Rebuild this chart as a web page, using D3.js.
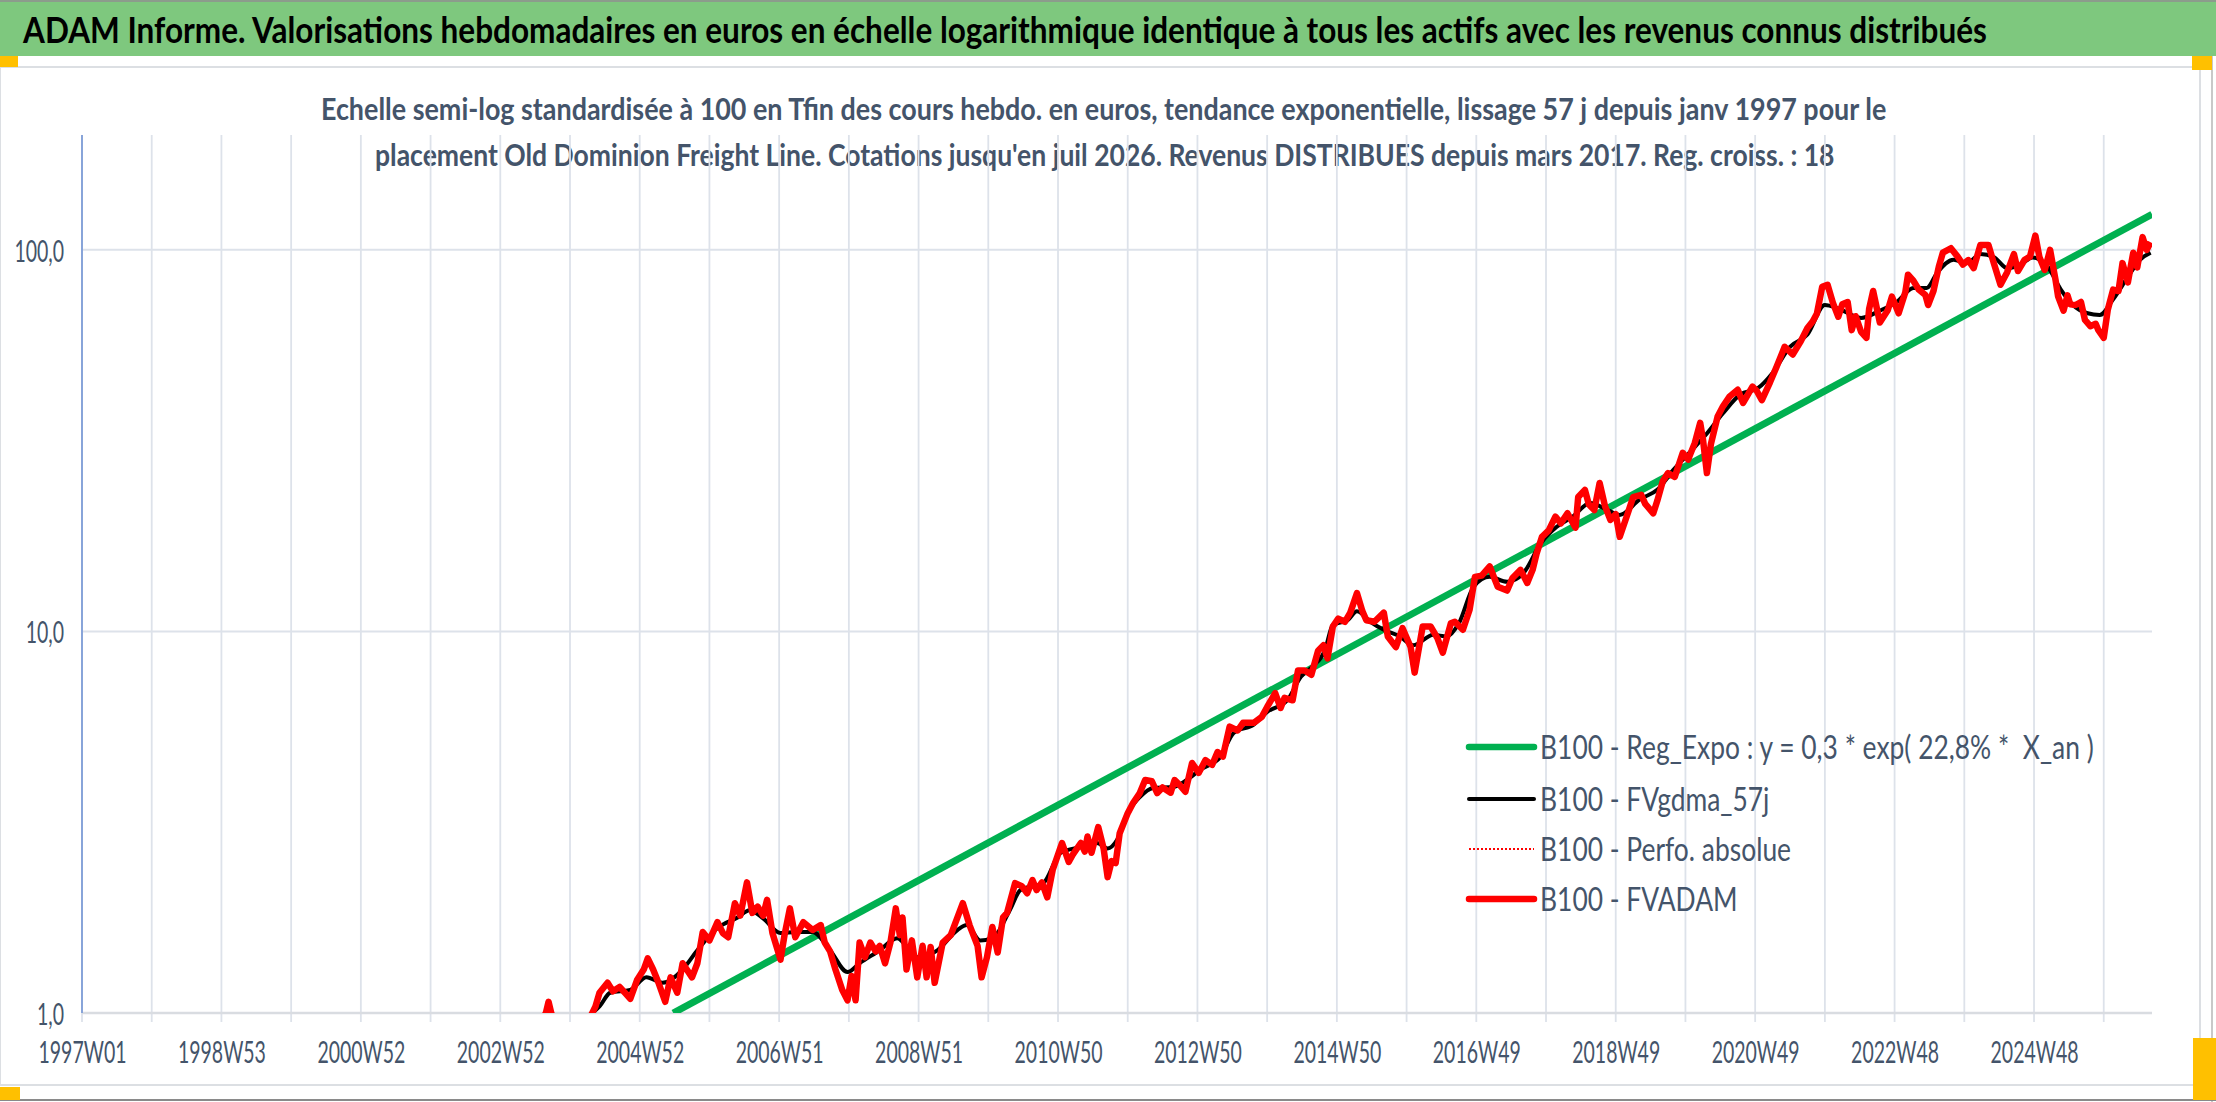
<!DOCTYPE html>
<html>
<head>
<meta charset="utf-8">
<script src="https://cdn.jsdelivr.net/npm/d3@7"></script>
<style>
  html, body { margin: 0; padding: 0; background: #fff; }
  svg { display: block; font-family: Lato, "Open Sans", sans-serif; }
  svg text { white-space: pre; }
</style>
</head>
<body>
<div id="chart"></div>
<script>
// category labels of the x axis (one every 104 weeks)
const xLabels = ['1997W01', '1998W53', '2000W52', '2002W52', '2004W52', '2006W51', '2008W51',
  '2010W50', '2012W50', '2014W50', '2016W49', '2018W49', '2020W49', '2022W48', '2024W48'];
const yTicks = [1, 10, 100];

// B100 - Reg_Expo (straight line on the log scale), week index from 1997W01
const regWeeks = [441, 1544];
const regValues = [1.0, 124];

// B100 - FVADAM (weekly)
const fvadamWeeks = [340, 346, 348, 350, 354, 365, 376, 380, 383, 386, 392, 396, 401, 406, 409, 414, 419, 422, 426, 430,
  435, 439, 444, 448, 455, 459, 463, 468, 474, 478, 482, 487, 491, 496, 500, 504, 508, 511, 515, 521,
  524, 528, 532, 538, 545, 551, 554, 558, 562, 567, 571, 574, 577, 580, 584, 588, 592, 595, 599, 603,
  607, 610, 612, 615, 619, 623, 627, 630, 633, 636, 642, 648, 653, 657, 662, 668, 671, 675, 679, 683,
  687, 690, 696, 701, 705, 709, 712, 716, 720, 724, 731, 736, 739, 745, 748, 750, 753, 758, 762, 765,
  768, 771, 774, 780, 784, 789, 793, 798, 802, 806, 812, 815, 819, 823, 828, 833, 838, 843, 847, 851,
  856, 862, 866, 874, 880, 884, 890, 894, 897, 903, 907, 912, 917, 922, 926, 929, 933, 937, 942, 946,
  951, 955, 958, 964, 971, 974, 980, 985, 991, 994, 1000, 1006, 1011, 1015, 1021, 1024, 1030, 1035, 1039, 1044,
  1050, 1056, 1063, 1067, 1073, 1078, 1082, 1085, 1089, 1094, 1099, 1103, 1108, 1114, 1116, 1121, 1124, 1128, 1132, 1136,
  1140, 1144, 1147, 1153, 1157, 1163, 1166, 1172, 1175, 1179, 1183, 1188, 1194, 1198, 1203, 1207, 1209, 1212, 1215, 1220,
  1224, 1229, 1235, 1239, 1246, 1249, 1253, 1259, 1264, 1270, 1276, 1282, 1287, 1291, 1294, 1298, 1302, 1306, 1310, 1313,
  1317, 1320, 1323, 1327, 1331, 1333, 1336, 1341, 1347, 1350, 1355, 1360, 1362, 1366, 1370, 1375, 1377, 1381, 1385, 1388,
  1394, 1399, 1403, 1407, 1411, 1416, 1422, 1426, 1431, 1436, 1441, 1444, 1449, 1453, 1457, 1460, 1464, 1468, 1472, 1474,
  1478, 1481, 1483, 1487, 1491, 1494, 1498, 1502, 1504, 1508, 1511, 1515, 1519, 1522, 1526, 1530, 1533, 1537, 1540, 1543];
const fvadamValues = [0.92, 1.0, 1.07, 1.0, 0.93, 0.88, 0.93, 0.99, 1.04, 1.13, 1.2, 1.14, 1.17, 1.12, 1.09, 1.22, 1.3, 1.39, 1.3, 1.2,
  1.07, 1.24, 1.13, 1.35, 1.24, 1.35, 1.63, 1.55, 1.73, 1.62, 1.58, 1.94, 1.8, 2.2, 1.83, 1.9, 1.8, 1.98, 1.62, 1.38,
  1.6, 1.88, 1.58, 1.73, 1.65, 1.7, 1.53, 1.45, 1.3, 1.15, 1.08, 1.25, 1.08, 1.53, 1.4, 1.53, 1.45, 1.5, 1.35, 1.53,
  1.88, 1.6, 1.78, 1.3, 1.55, 1.24, 1.5, 1.24, 1.49, 1.2, 1.53, 1.6, 1.78, 1.94, 1.7, 1.5, 1.24, 1.4, 1.68, 1.44,
  1.78, 1.83, 2.19, 2.15, 2.06, 2.23, 2.1, 2.2, 2.01, 2.37, 2.79, 2.49, 2.6, 2.79, 2.65, 2.9, 2.63, 3.07, 2.7, 2.27,
  2.5, 2.47, 2.96, 3.34, 3.55, 3.77, 4.08, 4.05, 3.77, 3.9, 3.78, 4.08, 3.95, 3.8, 4.52, 4.26, 4.6, 4.47, 4.83, 4.7,
  5.63, 5.5, 5.76, 5.76, 5.97, 6.34, 6.89, 6.3, 6.7, 6.6, 7.9, 7.9, 7.7, 8.9, 9.2, 8.5, 10.3, 10.8, 10.6, 11.2,
  12.6, 11.3, 10.7, 10.6, 11.2, 9.7, 9.1, 10.2, 9.1, 7.8, 10.3, 10.3, 9.6, 8.8, 10.5, 10.6, 10.1, 11.4, 13.9, 14.0,
  14.8, 13.1, 12.8, 13.8, 14.5, 13.4, 14.5, 16, 17.7, 18.4, 20, 19.2, 20.4, 18.7, 22.5, 23.5, 21.5, 20.8, 24.5, 21.3,
  19.6, 20.3, 17.7, 20.4, 22.5, 22.8, 21.6, 20.4, 22, 24.7, 26.0, 25.4, 29.4, 28.2, 31.2, 35.2, 32, 26.0, 31, 36.6,
  38.9, 41.3, 43, 39.7, 43.8, 42.8, 40.4, 44.9, 49.4, 55.7, 53.2, 57.6, 62.4, 65, 68, 80, 81, 72.6, 66.8, 72,
  73, 61.6, 67, 61, 58.8, 70, 78, 64.5, 69.6, 75.4, 68.2, 77.4, 86.1, 83, 78.7, 76.1, 71.7, 78, 90.4, 98.3,
  101, 96, 91.5, 94, 89.6, 103, 103, 92.3, 81, 87.4, 97.5, 88, 94.2, 96, 109, 95.8, 88.6, 100, 83.6, 75.4,
  69.3, 76, 72, 71.7, 73, 65.5, 63.1, 64, 61.6, 58.8, 69.6, 78.7, 78, 92.3, 82.2, 98.3, 90, 108, 100, 104.7];

// B100 - FVgdma_57j (smoothed)
const smoothWeeks = [370, 386, 394, 409, 421, 433, 448, 459, 474, 489, 498, 508, 521, 533, 545, 558, 571, 580, 595, 608,
  623, 638, 653, 660, 670, 680, 692, 700, 717, 730, 745, 757, 765, 772, 780, 789, 799, 814, 824, 834,
  849, 859, 874, 884, 899, 909, 918, 927, 933, 944, 951, 961, 971, 983, 993, 1008, 1018, 1027, 1038, 1050,
  1063, 1075, 1088, 1100, 1112, 1125, 1138, 1147, 1162, 1175, 1187, 1199, 1212, 1224, 1237, 1250, 1261, 1274, 1287, 1300,
  1310, 1327, 1341, 1354, 1366, 1376, 1384, 1396, 1406, 1416, 1426, 1436, 1446, 1455, 1466, 1476, 1485, 1496, 1505, 1515,
  1526, 1535, 1543];
const smoothValues = [0.95, 1.04, 1.13, 1.15, 1.24, 1.2, 1.3, 1.46, 1.67, 1.78, 1.86, 1.77, 1.62, 1.63, 1.63, 1.46, 1.28, 1.35, 1.46, 1.57,
  1.4, 1.46, 1.65, 1.7, 1.55, 1.58, 1.86, 2.1, 2.19, 2.63, 2.72, 2.79, 2.7, 2.84, 3.34, 3.68, 3.89, 3.91, 4.08, 4.34,
  4.68, 5.42, 5.7, 6.15, 6.6, 7.6, 8.1, 8.9, 10.4, 10.7, 11.3, 10.6, 10.1, 9.7, 9.2, 9.8, 9.7, 10.5, 13.1, 13.9,
  13.5, 14.2, 17.0, 18.8, 20, 21.7, 20.8, 20.2, 22.2, 23.5, 26.5, 29.4, 33.0, 37.3, 41.8, 43.4, 47.6, 55.7, 60, 71.7,
  70.2, 66.3, 69.3, 73.2, 79.5, 79.5, 87.4, 94.2, 92.3, 97.5, 95.8, 89.6, 91.5, 95.5, 90.4, 78.7, 71.7, 68.2, 67.5, 74.2,
  84.9, 94.2, 98.3];

const legendLabels = ['B100 - Reg_Expo : y = 0,3 * exp( 22,8% *  X_an )', 'B100 - FVgdma_57j',
  'B100 - Perfo. absolue', 'B100 - FVADAM'];

const titleText = 'ADAM Informe. Valorisations hebdomadaires en euros en échelle logarithmique identique à tous les actifs avec les revenus connus distribués';
const subtitleLines = [
  'Echelle semi-log standardisée à 100 en Tfin des cours hebdo. en euros, tendance exponentielle, lissage 57 j depuis janv 1997 pour le',
  "placement Old Dominion Freight Line. Cotations jusqu'en juil 2026. Revenus DISTRIBUES depuis mars 2017. Reg. croiss. : 18"
];

// sizes
const svgWidth = 2216;
const svgHeight = 1102;
const plot = { left: 82, right: 2152, top: 135, bottom: 1013 };
const textColor = '#44546a';

const svg = d3.select('#chart')
  .append('svg')
  .attr('width', svgWidth)
  .attr('height', svgHeight);

// squeeze a text horizontally so that it spans the given width
function squeeze(sel, x, y, width) {
  const w = sel.node().getComputedTextLength();
  sel.attr('x', 0).attr('y', 0)
    .attr('transform', `translate(${x}, ${y}) scale(${width / w}, 1)`);
}

// frame: green header, chart area, orange corner marks
svg.append('rect').attr('x', 0).attr('y', 0).attr('width', svgWidth).attr('height', svgHeight).attr('fill', '#fff');
svg.append('rect').attr('x', 0).attr('y', 2).attr('width', svgWidth).attr('height', 54).attr('fill', '#7ec87e');
svg.append('line').attr('x1', 0).attr('x2', svgWidth).attr('y1', 1).attr('y2', 1).attr('stroke', '#8c9c8c').attr('stroke-width', 2);
svg.append('rect').attr('x', 0).attr('y', 67).attr('width', 2200).attr('height', 1018)
  .attr('fill', '#fff').attr('stroke', '#dcdfe3').attr('stroke-width', 2);
svg.append('line').attr('x1', 2212).attr('x2', 2212).attr('y1', 56).attr('y2', svgHeight).attr('stroke', '#c8c8c8').attr('stroke-width', 2);
svg.append('line').attr('x1', 0).attr('x2', svgWidth).attr('y1', 1100).attr('y2', 1100).attr('stroke', '#8a8a8a').attr('stroke-width', 2);
[[0, 56, 18, 11], [2192, 56, 20, 14], [0, 1087, 20, 13], [2193, 1038, 23, 62]].forEach(r => {
  svg.append('rect').attr('x', r[0]).attr('y', r[1]).attr('width', r[2]).attr('height', r[3]).attr('fill', '#ffc000');
});

// titles
const title = svg.append('text')
  .attr('font-size', 37).attr('font-weight', 'bold').attr('fill', '#000')
  .text(titleText);
squeeze(title, 23, 43, 1965);

const subLayout = [{ x: 321, y: 120, w: 1566 }, { x: 375, y: 166, w: 1460 }];
subtitleLines.forEach((line, i) => {
  const t = svg.append('text')
    .attr('class', 'subtitle')
    .attr('font-size', 31).attr('font-weight', 'bold').attr('fill', textColor)
    .text(line);
  squeeze(t, subLayout[i].x, subLayout[i].y, subLayout[i].w);
});

// scales
const scaleX = d3.scaleLinear().domain([0, 1544]).range([plot.left, plot.right]);
const scaleY = d3.scaleLog().domain([1, 200]).range([plot.bottom, plot.top]);

// gridlines
const grid = svg.append('g').attr('class', 'grid');
grid.selectAll('line.v')
  .data(d3.range(0, 1545, 52))
  .enter()
  .append('line')
  .attr('x1', d => scaleX(d)).attr('x2', d => scaleX(d))
  .attr('y1', plot.top).attr('y2', plot.bottom + 9)
  .attr('stroke', '#dde2ea').attr('stroke-width', 1.8);
grid.selectAll('line.h')
  .data(yTicks.slice(1))
  .enter()
  .append('line')
  .attr('x1', plot.left).attr('x2', plot.right)
  .attr('y1', d => scaleY(d)).attr('y2', d => scaleY(d))
  .attr('stroke', '#dde2ea').attr('stroke-width', 2);
svg.append('line')
  .attr('x1', plot.left).attr('x2', plot.right)
  .attr('y1', plot.bottom).attr('y2', plot.bottom)
  .attr('stroke', '#d9dce1').attr('stroke-width', 2.5);
svg.append('line')
  .attr('x1', plot.left).attr('x2', plot.left)
  .attr('y1', plot.top).attr('y2', plot.bottom)
  .attr('stroke', '#6b8fd3').attr('stroke-width', 1.5);

// x axis labels
const gx = svg.append('g')
  .attr('transform', `translate(0, ${plot.bottom})`)
  .call(d3.axisBottom(scaleX)
    .tickValues(xLabels.map((d, i) => i * 104))
    .tickFormat((d, i) => xLabels[i])
    .tickSize(0));
gx.select('.domain').remove();
gx.selectAll('text')
  .attr('y', 50).attr('dy', null)
  .attr('font-family', 'Lato, "Open Sans", sans-serif')
  .attr('font-size', 31).attr('fill', textColor);
const kx = 88 / gx.select('text').node().getComputedTextLength();
gx.selectAll('text').attr('transform', `scale(${kx},1)`);

// y axis labels
const gy = svg.append('g')
  .attr('transform', `translate(${plot.left}, 0)`)
  .call(d3.axisLeft(scaleY)
    .tickValues(yTicks)
    .tickFormat(d => d3.format('.1f')(d).replace('.', ','))
    .tickSize(0));
gy.select('.domain').remove();
gy.selectAll('text')
  .attr('x', -18 / kx).attr('dy', '0.36em')
  .attr('font-family', 'Lato, "Open Sans", sans-serif')
  .attr('font-size', 31).attr('fill', textColor)
  .attr('transform', `scale(${kx},1)`);

// series
svg.append('clipPath').attr('id', 'plot-clip')
  .append('rect')
  .attr('x', plot.left).attr('y', plot.top)
  .attr('width', plot.right - plot.left).attr('height', plot.bottom - plot.top);

const series = svg.append('g').attr('clip-path', 'url(#plot-clip)');
const line = d3.line()
  .x(d => scaleX(d[0]))
  .y(d => scaleY(d[1]));

series.append('path')
  .attr('d', line(d3.zip(regWeeks, regValues)))
  .attr('fill', 'none').attr('stroke', '#00b050').attr('stroke-width', 7);

series.append('path')
  .attr('d', line.curve(d3.curveMonotoneX)(d3.zip(smoothWeeks, smoothValues)))
  .attr('fill', 'none').attr('stroke', '#000').attr('stroke-width', 4);
line.curve(d3.curveLinear);

series.append('path')
  .attr('d', line(d3.zip(fvadamWeeks, fvadamValues)))
  .attr('fill', 'none').attr('stroke', '#ff0000').attr('stroke-width', 2)
  .attr('stroke-dasharray', '2,2');

series.append('path')
  .attr('d', line(d3.zip(fvadamWeeks, fvadamValues)))
  .attr('fill', 'none').attr('stroke', '#ff0000').attr('stroke-width', 6.5)
  .attr('stroke-linejoin', 'round');

// legend
const legendStyles = [
  { color: '#00b050', width: 6.5, dash: null },
  { color: '#000', width: 4, dash: null },
  { color: '#ff0000', width: 2, dash: '2,2' },
  { color: '#ff0000', width: 6.5, dash: null }
];
const legendY = [747, 799, 849, 899];
const legend = svg.append('g').attr('class', 'legend');
legend.selectAll('line')
  .data(legendLabels)
  .enter()
  .append('line')
  .attr('x1', 1469).attr('x2', 1534)
  .attr('y1', (d, i) => legendY[i]).attr('y2', (d, i) => legendY[i])
  .attr('stroke', (d, i) => legendStyles[i].color)
  .attr('stroke-width', (d, i) => legendStyles[i].width)
  .attr('stroke-dasharray', (d, i) => legendStyles[i].dash)
  .attr('stroke-linecap', (d, i) => legendStyles[i].dash ? 'butt' : 'round');

const legendText = legend.selectAll('text')
  .data(legendLabels)
  .enter()
  .append('text')
  .attr('x', 0).attr('y', 0)
  .attr('font-size', 33).attr('fill', textColor)
  .text(d => d);
const kl = 554 / legendText.node().getComputedTextLength();
legendText.attr('transform', (d, i) => `translate(1540, ${legendY[i] + 12}) scale(${kl},1)`);
</script>
</body>
</html>
